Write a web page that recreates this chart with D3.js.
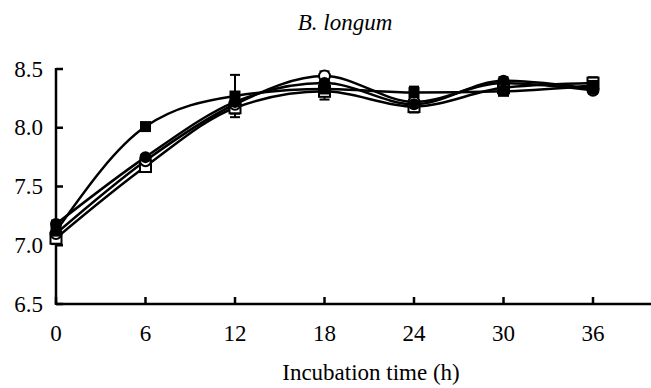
<!DOCTYPE html>
<html><head><meta charset="utf-8"><script src="https://cdn.jsdelivr.net/npm/d3@7"></script></head>
<body style="margin:0">
<div id="wrap" style="position:relative;width:651px;height:388px;font-family:'Liberation Serif';">
<svg id="chart" width="651" height="388" style="position:absolute;left:0;top:0"></svg>
</div>
<script>
// ─── Data ──────────────────────────────────────────────────────────────────
const hours = [0, 6, 12, 18, 24, 30, 36];
const xTicks = [0, 6, 12, 18, 24, 30, 36];
const yTicks = [6.5, 7.0, 7.5, 8.0, 8.5];

// log CFU/ml per series
const filledSquare = [7.12, 8.01, 8.27, 8.33, 8.30, 8.31, 8.36];
const filledCircle = [7.18, 7.75, 8.22, 8.38, 8.20, 8.40, 8.33];
const openCircle   = [7.10, 7.72, 8.20, 8.44, 8.22, 8.38, 8.32];
const openSquare   = [7.06, 7.67, 8.17, 8.31, 8.18, 8.34, 8.38];

const filledSquareErr = [0.03, 0.02, 0.18, 0.04, 0.05, 0.03, 0.04];
const filledCircleErr = [0.03, 0.02, 0.04, 0.04, 0.04, 0.03, 0.03];
const openCircleErr   = [0.03, 0.02, 0.04, 0.04, 0.04, 0.03, 0.03];
const openSquareErr   = [0.05, 0.02, 0.05, 0.07, 0.05, 0.04, 0.05];

const seriesList = [
  { values: openSquare,   err: openSquareErr,   shape: "square", filled: false },
  { values: openCircle,   err: openCircleErr,   shape: "circle", filled: false },
  { values: filledCircle, err: filledCircleErr, shape: "circle", filled: true },
  { values: filledSquare, err: filledSquareErr, shape: "square", filled: true },
];

// ─── Layout ────────────────────────────────────────────────────────────────
const W = 651, H = 388;
const FS = 23;            // px
const BASE = 19.3;        // baseline offset from top of a 23px line box

const x = d3.scaleLinear().domain([0, 36]).range([56, 593]);
const y = d3.scaleLinear().domain([6.5, 8.5]).range([304, 69]);

const svg = d3.select("#chart");
const wrap = d3.select("#wrap");

// HTML labels (serif text renders reliably here); px,py = anchor point + baseline
function label(px, py, str, opts = {}) {
  const shift = opts.anchor === "end" ? "-100%" : "-50%";
  return wrap.append("div")
    .style("position", "absolute")
    .style("left", px + "px")
    .style("top", (py - BASE) + "px")
    .style("transform", `translateX(${shift})`)
    .style("font-size", (opts.size || FS) + "px")
    .style("line-height", (opts.size || FS) + "px")
    .style("font-style", opts.italic ? "italic" : "normal")
    .style("white-space", "nowrap")
    .style("color", "#000")
    .text(str);
}

// ─── Title ─────────────────────────────────────────────────────────────────
label(345, 30, "B. longum", { italic: true });

// ─── Axes ──────────────────────────────────────────────────────────────────
const axisG = svg.append("g");
axisG.append("line")
  .attr("x1", x(0)).attr("x2", W).attr("y1", y(6.5)).attr("y2", y(6.5))
  .attr("stroke", "#000").attr("stroke-width", 2.5);
axisG.append("line")
  .attr("x1", x(0)).attr("x2", x(0)).attr("y1", y(8.5) - 1).attr("y2", y(6.5) + 1)
  .attr("stroke", "#000").attr("stroke-width", 2.5);

xTicks.forEach(t => {
  axisG.append("line")
    .attr("x1", x(t)).attr("x2", x(t)).attr("y1", y(6.5)).attr("y2", y(6.5) - 7)
    .attr("stroke", "#000").attr("stroke-width", 2.5);
  label(x(t), y(6.5) + 37, d3.format("d")(t));
});
yTicks.forEach(t => {
  axisG.append("line")
    .attr("x1", x(0)).attr("x2", x(0) + 7).attr("y1", y(t)).attr("y2", y(t))
    .attr("stroke", "#000").attr("stroke-width", 2.5);
  label(x(0) - 13, y(t) + 8, d3.format(".1f")(t), { anchor: "end" });
});

label(371, 380, "Incubation time (h)");

// ─── Lines ─────────────────────────────────────────────────────────────────
const line = d3.line()
  .x((d, i) => x(hours[i]))
  .y(d => y(d))
  .curve(d3.curveMonotoneX);

const plot = svg.append("g");

seriesList.forEach(s => {
  plot.append("path")
    .datum(s.values)
    .attr("d", line)
    .attr("fill", "none")
    .attr("stroke", "#000")
    .attr("stroke-width", 2.5);
});

// ─── Error bars ────────────────────────────────────────────────────────────
seriesList.forEach(s => {
  const g = plot.append("g");
  s.values.forEach((v, i) => {
    const cx = x(hours[i]);
    g.append("line")
      .attr("x1", cx).attr("x2", cx)
      .attr("y1", y(v - s.err[i])).attr("y2", y(v + s.err[i]))
      .attr("stroke", "#000").attr("stroke-width", 2);
    [v - s.err[i], v + s.err[i]].forEach(e => {
      g.append("line")
        .attr("x1", cx - 5).attr("x2", cx + 5)
        .attr("y1", y(e)).attr("y2", y(e))
        .attr("stroke", "#000").attr("stroke-width", 2);
    });
  });
});

// ─── Markers ───────────────────────────────────────────────────────────────
seriesList.forEach(s => {
  const g = plot.append("g");
  s.values.forEach((v, i) => {
    const cx = x(hours[i]), cy = y(v);
    if (s.shape === "square") {
      g.append("rect")
        .attr("x", cx - 5.5).attr("y", cy - 5.5)
        .attr("width", 11).attr("height", 11)
        .attr("fill", s.filled ? "#000" : "#fff")
        .attr("stroke", "#000").attr("stroke-width", s.filled ? 0 : 2);
    } else {
      g.append("circle")
        .attr("cx", cx).attr("cy", cy).attr("r", s.filled ? 6 : 5.5)
        .attr("fill", s.filled ? "#000" : "#fff")
        .attr("stroke", "#000").attr("stroke-width", s.filled ? 0 : 2);
    }
  });
});
</script>
</body></html>
